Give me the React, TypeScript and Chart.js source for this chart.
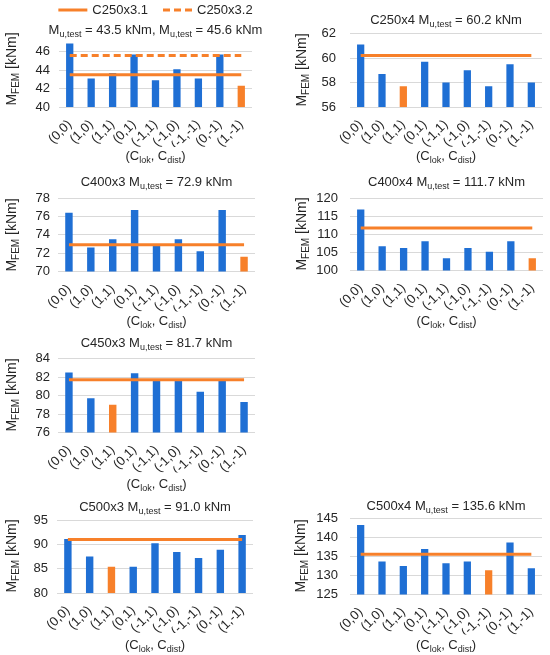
import { useEffect, useRef } from "react"
import { Chart, registerables } from "chart.js"

Chart.register(...registerables)

// x categories: (C_lok, C_dist)
const categories = ["(0,0)", "(1,0)", "(1,1)", "(0,1)", "(-1,1)", "(-1,0)", "(-1,-1)", "(0,-1)", "(1,-1)"]

// M_FEM per section [kNm]
const c250x3 = [46.9, 43.1, 43.7, 45.7, 42.9, 44.1, 43.1, 45.7, 42.3]
const c250x4 = [61.1, 58.7, 57.7, 59.7, 58.0, 59.0, 57.7, 59.5, 58.0]
const c400x3 = [76.4, 72.6, 73.5, 76.7, 72.9, 73.5, 72.2, 76.7, 71.6]
const c400x4 = [116.8, 106.7, 106.2, 108.1, 103.4, 106.2, 105.2, 108.1, 103.4]
const c450x3 = [82.5, 79.7, 79.0, 82.4, 81.6, 81.6, 80.4, 81.6, 79.3]
const c500x3 = [91.1, 87.5, 85.4, 85.4, 90.2, 88.4, 87.2, 88.9, 91.9]
const c500x4 = [143.3, 133.7, 132.5, 137.0, 133.2, 133.7, 131.4, 138.7, 131.9]

// M_u,test [kNm]
const muC250x3 = [43.5, 45.6]
const muC250x4 = [60.2]
const muC400x3 = [72.9]
const muC400x4 = [111.7]
const muC450x3 = [81.7]
const muC500x3 = [91.0]
const muC500x4 = [135.6]

// category index drawn in orange
const highlight = [8, 2, 8, 8, 2, 2, 6]

// y ticks per panel
const ticksC250x3 = [40, 42, 44, 46]
const ticksC250x4 = [56, 58, 60, 62]
const ticksC400x3 = [70, 72, 74, 76, 78]
const ticksC400x4 = [100, 105, 110, 115, 120]
const ticksC450x3 = [76, 78, 80, 82, 84]
const ticksC500x3 = [80, 85, 90, 95]
const ticksC500x4 = [125, 130, 135, 140, 145]

const FONT = '"Liberation Sans", Arial, sans-serif'
const BLUE = "#1f6fd4"
const ORANGE = "#f7802a"
const TEXT = "#262626"

type Seg = { t: string; sub?: boolean }

interface PanelSpec {
  name: string
  values: number[]
  mu: number[]
  lineLabels: string[]
  hi: number
  ticks: number[]
  yMax: number
}

const panels: PanelSpec[] = [
  { name: "C250x3", values: c250x3, mu: muC250x3, lineLabels: ["C250x3.1", "C250x3.2"], hi: highlight[0], ticks: ticksC250x3, yMax: 47 },
  { name: "C250x4", values: c250x4, mu: muC250x4, lineLabels: ["C250x4"], hi: highlight[1], ticks: ticksC250x4, yMax: 62 },
  { name: "C400x3", values: c400x3, mu: muC400x3, lineLabels: ["C400x3"], hi: highlight[2], ticks: ticksC400x3, yMax: 78 },
  { name: "C400x4", values: c400x4, mu: muC400x4, lineLabels: ["C400x4"], hi: highlight[3], ticks: ticksC400x4, yMax: 120 },
  { name: "C450x3", values: c450x3, mu: muC450x3, lineLabels: ["C450x3"], hi: highlight[4], ticks: ticksC450x3, yMax: 84 },
  { name: "C500x3", values: c500x3, mu: muC500x3, lineLabels: ["C500x3"], hi: highlight[5], ticks: ticksC500x3, yMax: 95 },
  { name: "C500x4", values: c500x4, mu: muC500x4, lineLabels: ["C500x4"], hi: highlight[6], ticks: ticksC500x4, yMax: 145 },
]

// page layout of each panel (canvas box + plot area, page pixels)
const layouts = [
  { x: 0, y: 0, w: 275, h: 164, l: 59, t: 42.5, r: 252, b: 107, titleY: 30, legendY: 10, yTitleX: 12, yTitleY: 69, xTitleY: 156, yPad: 9 },
  { x: 275, y: 0, w: 275, h: 164, l: 350, t: 33.5, r: 542, b: 107, titleY: 20, yTitleX: 302, yTitleY: 70, xTitleY: 156, yPad: 14 },
  { x: 0, y: 164, w: 275, h: 166, l: 58, t: 198, r: 255, b: 271.5, titleY: 182, yTitleX: 12, yTitleY: 235, xTitleY: 321, yPad: 8 },
  { x: 275, y: 164, w: 275, h: 166, l: 350, t: 198, r: 543, b: 270.5, titleY: 182, yTitleX: 302, yTitleY: 234, xTitleY: 321, yPad: 12 },
  { x: 0, y: 330, w: 275, h: 163, l: 58, t: 358.5, r: 255, b: 432.5, titleY: 343, yTitleX: 12, yTitleY: 395, xTitleY: 484, yPad: 8 },
  { x: 0, y: 493, w: 275, h: 162, l: 57, t: 520, r: 253, b: 593, titleY: 507, yTitleX: 12, yTitleY: 556, xTitleY: 645, yPad: 9 },
  { x: 275, y: 493, w: 275, h: 162, l: 350, t: 518.5, r: 542, b: 594.5, titleY: 506, yTitleX: 301, yTitleY: 556, xTitleY: 645, yPad: 12 },
]

const Y_AXIS_W = 40
const X_AXIS_H = 40

function drawRich(ctx: CanvasRenderingContext2D, segs: Seg[], cx: number, cy: number, size: number) {
  const subSize = Math.round(size * 0.72)
  const widths = segs.map((s) => {
    ctx.font = `${s.sub ? subSize : size}px ${FONT}`
    return ctx.measureText(s.t).width
  })
  const total = widths.reduce((a, b) => a + b, 0)
  let x = cx - total / 2
  ctx.textAlign = "left"
  ctx.textBaseline = "middle"
  ctx.fillStyle = TEXT
  segs.forEach((s, i) => {
    ctx.font = `${s.sub ? subSize : size}px ${FONT}`
    ctx.fillText(s.t, x, s.sub ? cy + size * 0.32 : cy)
    x += widths[i]
  })
}

const panelText = {
  id: "panelText",
  afterDraw(chart: any, _args: any, opts: any) {
    const ctx: CanvasRenderingContext2D = chart.ctx
    const area = chart.chartArea
    const cx = (area.left + area.right) / 2
    ctx.save()
    if (opts.legend) {
      const lineW = 29
      const gap = 5
      const between = 15
      ctx.font = `13px ${FONT}`
      const items = opts.legend.map((it: any) => ({ ...it, tw: ctx.measureText(it.label).width }))
      const total = items.reduce((a: number, it: any) => a + lineW + gap + it.tw, 0) + between * (items.length - 1)
      let x = cx - total / 2
      items.forEach((it: any) => {
        ctx.strokeStyle = ORANGE
        ctx.lineWidth = 3
        ctx.setLineDash(it.dash)
        ctx.beginPath()
        ctx.moveTo(x, opts.legendY)
        ctx.lineTo(x + lineW, opts.legendY)
        ctx.stroke()
        ctx.setLineDash([])
        ctx.fillStyle = TEXT
        ctx.textAlign = "left"
        ctx.textBaseline = "middle"
        ctx.fillText(it.label, x + lineW + gap, opts.legendY)
        x += lineW + gap + it.tw + between
      })
    }
    drawRich(ctx, opts.title, cx, opts.titleY, 13)
    drawRich(ctx, [{ t: "(C" }, { t: "lok", sub: true }, { t: ", C" }, { t: "dist", sub: true }, { t: ")" }], cx, opts.xTitleY, 13)
    ctx.translate(opts.yTitleX, opts.yTitleY)
    ctx.rotate(-Math.PI / 2)
    drawRich(ctx, [{ t: "M" }, { t: "FEM", sub: true }, { t: " [kNm]" }], 0, 0, 14)
    ctx.restore()
  },
}

function Panel({ spec, lay }: { spec: PanelSpec; lay: (typeof layouts)[number] }) {
  const chartRef = useRef<HTMLCanvasElement>(null)
  const chartInstance = useRef<Chart | null>(null)

  useEffect(() => {
    if (!chartRef.current) return
    if (chartInstance.current) chartInstance.current.destroy()
    const ctx = chartRef.current.getContext("2d")
    if (!ctx) return

    const titleSegs: Seg[] = []
    if (spec.mu.length > 1) {
      spec.mu.forEach((m, i) => {
        titleSegs.push({ t: (i > 0 ? ", " : "") + "M" }, { t: "u,test", sub: true }, { t: ` = ${m.toFixed(1)} kNm` })
      })
    } else {
      titleSegs.push({ t: `${spec.name} M` }, { t: "u,test", sub: true }, { t: ` = ${spec.mu[0].toFixed(1)} kNm` })
    }

    const lineSets = spec.mu.map((m, i) => ({
      type: "line" as const,
      label: spec.lineLabels[i],
      data: categories.map(() => m),
      borderColor: ORANGE,
      borderWidth: 3,
      borderDash: i === 1 ? [7, 4] : [],
      pointRadius: 0,
      fill: false,
      order: 1,
    }))

    chartInstance.current = new Chart(ctx, {
      type: "bar",
      data: {
        labels: categories,
        datasets: [
          ...lineSets,
          {
            type: "bar" as const,
            label: spec.name,
            data: spec.values,
            backgroundColor: spec.values.map((_, i) => (i === spec.hi ? ORANGE : BLUE)),
            barPercentage: 0.34,
            categoryPercentage: 1,
            order: 2,
          },
        ] as any,
      },
      options: {
        responsive: false,
        animation: false,
        layout: {
          padding: {
            left: lay.l - lay.x - Y_AXIS_W,
            right: lay.x + lay.w - lay.r,
            top: lay.t - lay.y,
            bottom: lay.y + lay.h - lay.b - X_AXIS_H,
          },
        },
        scales: {
          x: {
            grid: { display: false },
            border: { display: false },
            afterFit: (s: any) => {
              s.height = X_AXIS_H
            },
            ticks: {
              autoSkip: false,
              maxRotation: 45,
              minRotation: 45,
              padding: 2,
              color: TEXT,
              font: { family: FONT, size: 13 },
            },
          },
          y: {
            min: spec.ticks[0],
            max: spec.yMax,
            grid: { color: "#d9d9d9", lineWidth: 1, drawTicks: false },
            border: { display: false },
            afterFit: (s: any) => {
              s.width = Y_AXIS_W
            },
            afterBuildTicks: (s: any) => {
              s.ticks = spec.ticks.map((v) => ({ value: v }))
            },
            ticks: {
              autoSkip: false,
              padding: lay.yPad,
              color: TEXT,
              font: { family: FONT, size: 13 },
            },
          },
        },
        plugins: {
          legend: { display: false },
          tooltip: { enabled: false },
          panelText: {
            title: titleSegs,
            titleY: lay.titleY - lay.y,
            xTitleY: lay.xTitleY - lay.y,
            yTitleX: lay.yTitleX - lay.x,
            yTitleY: lay.yTitleY - lay.y,
            legendY: (lay.legendY ?? 0) - lay.y,
            legend:
              spec.mu.length > 1
                ? spec.lineLabels.map((label, i) => ({ label, dash: i === 1 ? [7, 4] : [] }))
                : null,
          },
        } as any,
      },
      plugins: [panelText],
    })

    return () => {
      if (chartInstance.current) {
        chartInstance.current.destroy()
        chartInstance.current = null
      }
    }
  }, [spec, lay])

  return (
    <canvas
      ref={chartRef}
      width={lay.w}
      height={lay.h}
      style={{ position: "absolute", left: lay.x, top: lay.y, width: lay.w, height: lay.h }}
    />
  )
}

export default function App() {
  return (
    <div style={{ position: "absolute", left: 0, top: 0, width: 550, height: 655, background: "#fff" }}>
      {panels.map((p, i) => (
        <Panel key={p.name} spec={p} lay={layouts[i]} />
      ))}
    </div>
  )
}
